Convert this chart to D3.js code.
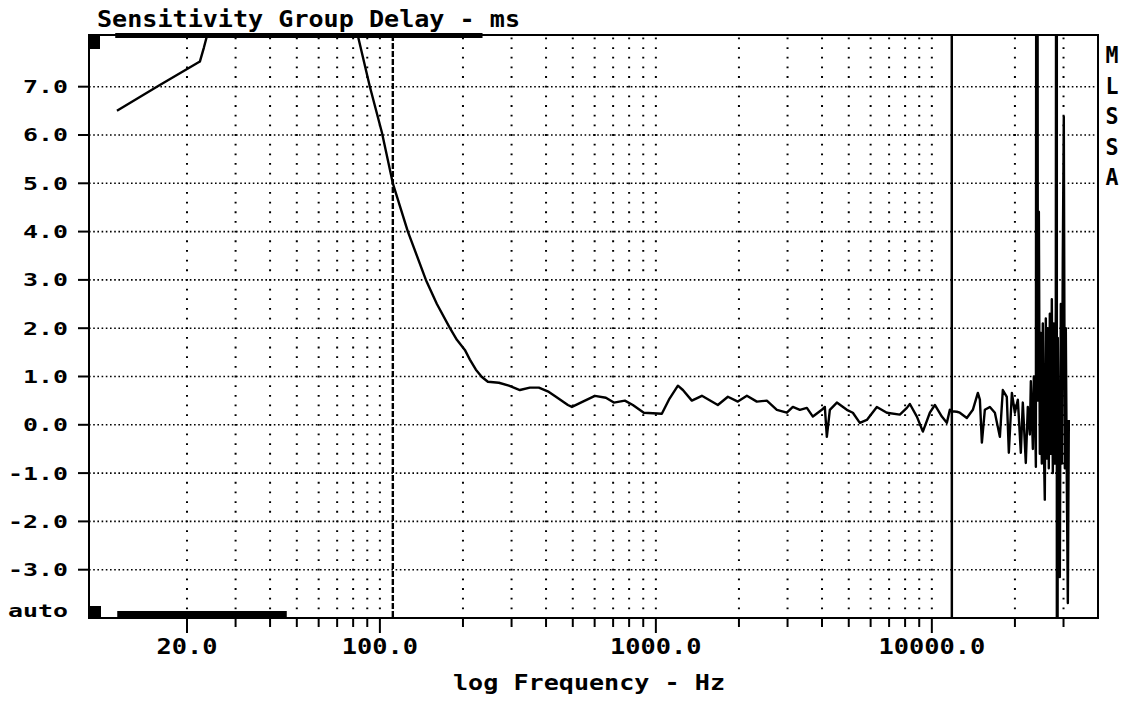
<!DOCTYPE html>
<html>
<head>
<meta charset="utf-8">
<script src="https://cdn.jsdelivr.net/npm/d3@7"></script>
<style>
  body { margin:0; background:#fff; }
  text { font-family: "DejaVu Sans Mono", monospace; font-weight: bold; fill:#000; }
</style>
</head>
<body>
<div id="chart"></div>
<script>
/////////////////////////////////////////////////////////////////////
/////////////////////////global variables/////////////////////////////
////////////////////////////////////////////////////////////////////
var wdim = 1128, hdim = 702;
var margin = {top:35, right:30, left:89, bottom:84},
    width = wdim - margin.left - margin.right,
    height = hdim - margin.top - margin.bottom;
var canvas, x, y;

// sensitivity group delay (ms)
var freqHz = [11.15, 15.56, 22.27, 23.03, 23.62, 26, 32, 45, 60, 72,
  83.25, 91.99, 101.7, 111.4, 126.3, 146.8, 160.9, 179.4, 190.1, 203.2,
  211.9, 222.8, 234.2, 246.2, 269.9, 293.4, 321.6, 349.5, 376.8, 409.7,
  434.4, 480.0, 496.3, 543.8, 601.2, 659.0, 704.4, 772.1, 825.4, 904.5,
  1051, 1115, 1202, 1253, 1350, 1468, 1677, 1824, 1982, 2137,
  2322, 2524, 2744, 2983, 3136, 3325, 3525, 3706, 3994, 4095,
  4164, 4270, 4527, 4920, 5174, 5483, 5814, 6320, 6871, 7657,
  8119, 8325, 8826, 9279, 9835, 10254, 10870, 11332, 11620, 11805,
  11812, 11813, 11820, 12318, 12630, 13390, 14080, 14680, 14930, 15180,
  15560, 16230, 16920, 17640, 18080, 18690, 19010, 19500, 19990, 20490,
  21010, 21360, 21900, 22270, 22650, 22840, 23030, 23230, 23420, 23620,
  23820, 24020, 24220, 24420, 24620, 24830, 25030, 25240, 25450, 25660,
  25880, 26100, 26310, 26530, 26760, 26980, 27210, 27440, 27670, 27900,
  28130, 28370, 28375, 28600, 28840, 29090, 29330, 29580, 29820, 30070,
  30330, 30580, 30840, 31100, 31360];
var delayMs = [6.50, 7.00, 7.52, 7.81, 8.05, 9.5, 12, 14, 13, 10.5,
  8.05, 7.00, 6.05, 5.00, 4.00, 3.00, 2.50, 2.00, 1.76, 1.55,
  1.35, 1.14, 0.99, 0.89, 0.87, 0.81, 0.72, 0.77, 0.77, 0.68,
  0.58, 0.41, 0.37, 0.48, 0.60, 0.56, 0.46, 0.50, 0.41, 0.25,
  0.23, 0.52, 0.81, 0.72, 0.50, 0.60, 0.41, 0.58, 0.48, 0.60,
  0.48, 0.50, 0.31, 0.25, 0.37, 0.31, 0.35, 0.17, 0.31, 0.37,
  -0.25, 0.31, 0.46, 0.31, 0.25, 0.04, 0.10, 0.37, 0.25, 0.21,
  0.35, 0.43, 0.17, -0.14, 0.25, 0.41, 0.17, 0.04, 0.31, 0.30,
  40, -40, 0.28, 0.27, 0.25, 0.14, 0.31, 0.66, 0.52, -0.37,
  0.31, 0.37, 0.25, -0.25, 0.72, 0.58, -0.58, 0.66, 0.25, 0.52,
  -0.58, 0.46, -0.79, 0.37, -0.2, 0.9, 0.25, -0.5, 1.0, 0.58,
  -0.87, 30, 0.5, 4.41, -0.6, 1.9, -0.8, 2.1, -0.4, -1.55,
  2.2, -0.7, 2.0, -0.9, 2.3, -0.6, 2.6, -1.0, 2.1, -0.8,
  2.4, 30, -30, 1.8, -0.9, -3.15, 2.5, -0.8, 3.5, 6.38,
  -0.9, 2.0, -1.2, -3.69, 0.10];

var xDomain = [8.83, 40000];
var yDomain = [-4, 8.07];
var yTickValues = [7, 6, 5, 4, 3, 2, 1, 0, -1, -2, -3];
var yTickLabels = ["7.0", "6.0", "5.0", "4.0", "3.0", "2.0", "1.0", "0.0", "-1.0", "-2.0", "-3.0"];
var xMajorTicks = [20, 100, 1000, 10000];
var xMajorLabels = ["20.0", "100.0", "1000.0", "10000.0"];
var xMinorTicks = [30, 40, 50, 60, 70, 80, 90, 200, 300, 400, 500, 600, 700, 800, 900,
  2000, 3000, 4000, 5000, 6000, 7000, 8000, 9000, 20000, 30000];
var cursorFreq = 111.4;
var sideLetters = ["M", "L", "S", "S", "A"];

/////////////////////////////////////////////////////////////////
/////////////////////helpers////////////////////////////////////
///////////////////////////////////////////////////////////////
function stretchText(g, str, px, py, size, len, anchor){
  // old DOS bitmap font is wider than anything installed, so force the width
  var x0 = px;
  if(anchor == "end") x0 = px - len;
  if(anchor == "middle") x0 = px - len/2;
  return g.append("text")
    .attr("x", x0).attr("y", py)
    .attr("font-size", size + "px")
    .attr("textLength", len)
    .attr("lengthAdjust", "spacingAndGlyphs")
    .text(str);
}

function build_canvas(){
  var svg = d3.select("#chart").append("svg")
    .attr("width", wdim).attr("height", hdim);
  svg.append("defs").append("clipPath").attr("id", "plotclip")
    .append("rect").attr("x", 0).attr("y", 0).attr("width", width).attr("height", height);
  return svg;
}

/////////////////////////////////////////////////////////////////
/////////////////////grid + frame///////////////////////////////
///////////////////////////////////////////////////////////////
function draw_grid(g){
  g.selectAll(".hgrid").data(yTickValues).enter().append("line")
    .attr("class", "hgrid")
    .attr("x1", 0).attr("x2", width)
    .attr("y1", d => y(d)).attr("y2", d => y(d))
    .attr("stroke", "#000").attr("stroke-width", 1.6)
    .attr("stroke-dasharray", "1.6,2.6");

  var allTicks = xMajorTicks.concat(xMinorTicks);
  var unit = y(0) - y(1);
  g.selectAll(".vgrid").data(allTicks).enter().append("line")
    .attr("class", "vgrid")
    .attr("x1", d => x(d)).attr("x2", d => x(d))
    .attr("y1", height).attr("y2", 0)
    .attr("stroke", "#000").attr("stroke-width", 2)
    .attr("stroke-dasharray", "1.8," + (unit/5 - 1.8))
    .attr("stroke-dashoffset", -((height - y(0)) % (unit/5)) + 0.9);

  // cursor
  g.append("line")
    .attr("x1", x(cursorFreq)).attr("x2", x(cursorFreq))
    .attr("y1", 0).attr("y2", height)
    .attr("stroke", "#000").attr("stroke-width", 2.4)
    .attr("stroke-dasharray", "6,2");
}

function draw_frame(g){
  g.append("rect")
    .attr("x", 0).attr("y", 0).attr("width", width).attr("height", height)
    .attr("fill", "none").attr("stroke", "#000").attr("stroke-width", 2);

  // scroll / range bars on top and bottom edge
  g.append("rect").attr("x", -1).attr("y", 1).attr("width", 12).attr("height", 13).attr("fill", "#000");
  g.append("rect").attr("x", width*0.026).attr("y", -2).attr("width", width*0.364).attr("height", 5).attr("fill", "#000");
  g.append("rect").attr("x", -1).attr("y", height - 12).attr("width", 13).attr("height", 12).attr("fill", "#000");
  g.append("rect").attr("x", width*0.028).attr("y", height - 7).attr("width", width*0.168).attr("height", 7).attr("fill", "#000");
}

/////////////////////////////////////////////////////////////////
/////////////////////axes + labels//////////////////////////////
///////////////////////////////////////////////////////////////
function draw_axes(g){
  g.selectAll(".ytick").data(yTickValues).enter().append("line")
    .attr("x1", -11).attr("x2", 0)
    .attr("y1", d => y(d)).attr("y2", d => y(d))
    .attr("stroke", "#000").attr("stroke-width", 2);
  yTickValues.forEach(function(v, i){
    var s = yTickLabels[i];
    stretchText(g, s, -21, y(v) + 6.5, 18, 15*s.length, "end");
  });
  stretchText(g, "auto", -21, height - 1, 18, 60, "end");

  g.selectAll(".xmaj").data(xMajorTicks).enter().append("line")
    .attr("x1", d => x(d)).attr("x2", d => x(d))
    .attr("y1", height).attr("y2", height + 15)
    .attr("stroke", "#000").attr("stroke-width", 2);
  g.selectAll(".xmin").data(xMinorTicks).enter().append("line")
    .attr("x1", d => x(d)).attr("x2", d => x(d))
    .attr("y1", height).attr("y2", height + 9)
    .attr("stroke", "#000").attr("stroke-width", 2);
  xMajorTicks.forEach(function(f, i){
    var s = xMajorLabels[i];
    stretchText(g, s, x(f), height + 36, 21, 15.25*s.length, "middle");
  });
}

function draw_labels(svg){
  stretchText(svg, "Sensitivity Group Delay - ms", 97, 27, 23, 423, "start");
  stretchText(svg, "log Frequency - Hz", 453, 690, 22, 272, "start");
  sideLetters.forEach(function(c, i){
    stretchText(svg, c, 1112, 63 + i*30.5, 23, 13, "middle");
  });
}

/////////////////////////////////////////////////////////////////
/////////////////////the trace//////////////////////////////////
///////////////////////////////////////////////////////////////
function draw_curve(g){
  var pts = freqHz.map((f, i) => [f, delayMs[i]]);
  var line = d3.line().x(d => x(d[0])).y(d => y(d[1]));
  g.append("g").attr("clip-path", "url(#plotclip)")
    .append("path")
    .datum(pts)
    .attr("d", line)
    .attr("fill", "none")
    .attr("stroke", "#000")
    .attr("stroke-width", 2.4)
    .attr("stroke-linejoin", "round");
}

////////////////////////////////////////////////////////////////////
/////////////////////// MAIN //////////////////////////////////////
//////////////////////////////////////////////////////////////////
function main(){
  canvas = build_canvas();
  x = d3.scaleLog().domain(xDomain).range([0, width]);
  y = d3.scaleLinear().domain(yDomain).range([height, 0]);

  var g = canvas.append("g")
    .attr("transform", "translate(" + margin.left + "," + margin.top + ")");
  draw_grid(g);
  draw_curve(g);
  draw_frame(g);
  draw_axes(g);
  draw_labels(canvas);
}

main();
</script>
</body>
</html>
